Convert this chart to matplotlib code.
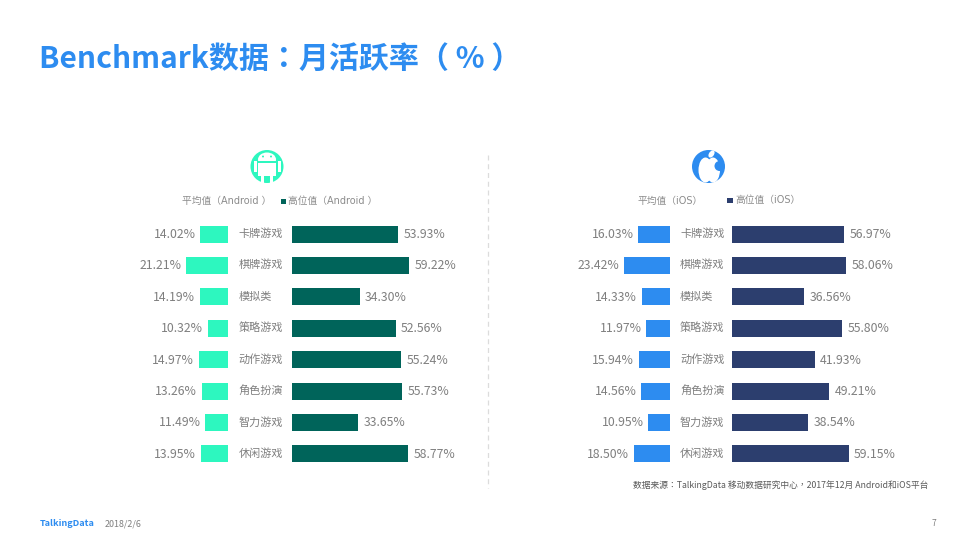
import matplotlib
matplotlib.use('Agg')
import matplotlib.pyplot as plt
from matplotlib.patches import Circle, Rectangle, Ellipse

plt.rcParams['font.family'] = ['Noto Sans CJK SC', 'DejaVu Sans']
TC = ['Noto Sans CJK TC']
WIDE = ['DejaVu Sans', 'Noto Sans CJK TC']

android_categories = ['卡牌游戏', '棋牌游戏', '模拟类', '策略游戏', '动作游戏', '角色扮演', '智力游戏', '休闲游戏']
ios_categories = list(android_categories)
android_avg = [14.02, 21.21, 14.19, 10.32, 14.97, 13.26, 11.49, 13.95]
android_high = [53.93, 59.22, 34.30, 52.56, 55.24, 55.73, 33.65, 58.77]
ios_avg = [16.03, 23.42, 14.33, 11.97, 15.94, 14.56, 10.95, 18.50]
ios_high = [56.97, 58.06, 36.56, 55.80, 41.93, 49.21, 38.54, 59.15]

W, H = 973, 547
fig = plt.figure(figsize=(W / 100, H / 100), dpi=100, facecolor='white')

GREY = '#7f7f7f'
LGREY = '#8c8c8c'
SCALE = 1.97
TOP, BOT = 218.5, 469.5   # pixel extents of the 8 rows

def make_ax(x0, x1, xlim):
    ax = fig.add_axes([x0 / W, 1 - BOT / H, (x1 - x0) / W, (BOT - TOP) / H])
    ax.set_xlim(*xlim)
    ax.set_ylim(7.5, -0.5)
    ax.axis('off')
    ax.patch.set_alpha(0)
    return ax

def panel(cats, avg, high, avg_col, high_col, left_edge, right_edge, cat_x):
    lw = 100 * SCALE
    axl = make_ax(left_edge - lw, left_edge, (100, 0))
    axl.barh(range(8), avg, height=0.54, color=avg_col)
    for i, v in enumerate(avg):
        axl.annotate(f'{v:.2f}%', (v, i), xytext=(-3.5, -0.3), textcoords='offset points',
                     ha='right', va='center', fontsize=8.8, color=GREY)
    axr = make_ax(right_edge, right_edge + lw, (0, 100))
    axr.barh(range(8), high, height=0.54, color=high_col)
    for i, v in enumerate(high):
        axr.annotate(f'{v:.2f}%', (v, i), xytext=(4, -0.3), textcoords='offset points',
                     ha='left', va='center', fontsize=8.8, color=GREY)
    for i, c in enumerate(cats):
        axl.annotate(c, (1, i), xycoords=('axes fraction', 'data'),
                     xytext=((cat_x - left_edge) * 0.72, 0.3),
                     textcoords='offset points', ha='left', va='center',
                     fontsize=8, color=GREY)

panel(android_categories, android_avg, android_high, '#2DF7BF', '#00645A', 228, 292, 238.5)
panel(ios_categories, ios_avg, ios_high, '#2D8CF0', '#2C3E6E', 670, 732, 680)

ov = fig.add_axes([0, 0, 1, 1])
ov.set_xlim(0, W)
ov.set_ylim(H, 0)
ov.axis('off')
ov.patch.set_alpha(0)

ov.text(39, 58.5, 'Benchmark数据：月活跃率（ % ）', fontsize=21.6, fontweight='bold',
        family=TC, color='#2D8CF0', ha='left', va='center')

ov.plot([487.5, 487.5], [155, 488], color='#dcdcdc', lw=0.9, ls=(0, (4, 3)))

ov.text(182, 201, '平均值（Android ）', fontsize=7, family=WIDE, color=LGREY, ha='left', va='center')
ov.add_patch(Rectangle((281, 198.5), 5, 5, color='#00645A', lw=0))
ov.text(288, 201, '高位值（Android ）', fontsize=7, family=WIDE, color=LGREY, ha='left', va='center')
ov.text(637, 200.5, '平均值（iOS）', fontsize=7, family=WIDE, color=LGREY, ha='left', va='center')
ov.add_patch(Rectangle((727, 198), 6, 5, color='#2C3E6E', lw=0))
ov.text(735, 200.5, '高位值（iOS）', fontsize=7, family=WIDE, color=LGREY, ha='left', va='center')

# android icon
c = '#2DF7BF'
ov.add_patch(Circle((267, 166.5), 16.5, color=c, lw=0))
ov.add_patch(Ellipse((267, 159.5), 18, 14, color='white', lw=0))
ov.add_patch(Rectangle((257, 160.5), 20, 2, color=c, lw=0))
ov.add_patch(Rectangle((258, 162.5), 18, 13, color='white', lw=0))
ov.add_patch(Rectangle((253.5, 161), 3, 11, color='white', lw=0))
ov.add_patch(Rectangle((277.5, 161), 3, 11, color='white', lw=0))
ov.add_patch(Rectangle((261, 175), 3, 8.5, color='white', lw=0))
ov.add_patch(Rectangle((270, 175), 3, 8.5, color='white', lw=0))
ov.add_patch(Circle((263, 156.5), 1, color=c, lw=0))
ov.add_patch(Circle((271, 156.5), 1, color=c, lw=0))

# apple icon
c = '#2D8CF0'
ov.add_patch(Circle((708.5, 166.5), 16.5, color=c, lw=0))
ov.add_patch(Ellipse((705.5, 170), 14, 25, color='white', lw=0))
ov.add_patch(Ellipse((713, 170), 14, 25, color='white', lw=0))
ov.add_patch(Circle((719.5, 166), 5, color=c, lw=0))
ov.add_patch(Ellipse((711.5, 154), 5, 8, angle=35, color='white', lw=0))

ov.text(928, 485.5, '数据来源：TalkingData 移动数据研究中心，2017年12月 Android和iOS平台',
        fontsize=6.3, family=TC, color='#595959', ha='right', va='center')
ov.text(40, 523, 'TalkingData', fontsize=6.6, fontweight='bold', color='#2D8CF0', ha='left', va='center')
ov.text(105, 523.5, '2018/2/6', fontsize=6.4, color='#7f7f7f', ha='left', va='center')
ov.text(936, 523.5, '7', fontsize=6, color='#7f7f7f', ha='right', va='center')

fig.savefig('out.png', dpi=100, facecolor='white')
